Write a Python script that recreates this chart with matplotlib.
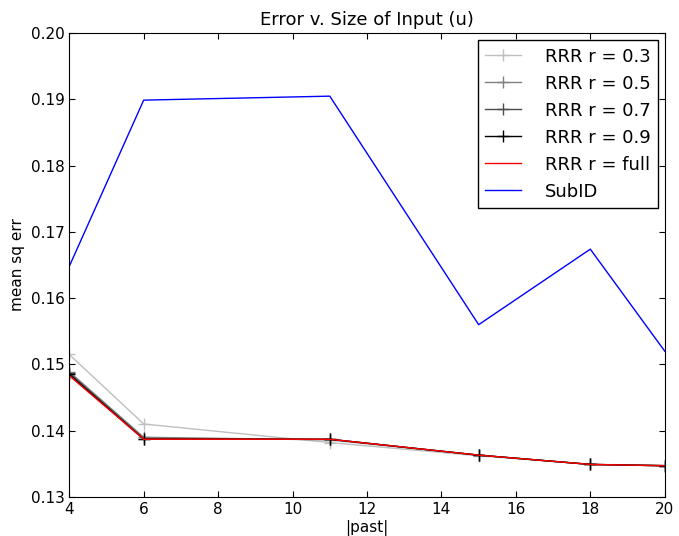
import matplotlib
matplotlib.use('Agg')
import matplotlib.pyplot as plt

# x values (|past|)
past = [4, 6, 11, 15, 18, 20]

# mean squared error per method
rrr_03 = [0.1515, 0.1410, 0.1382, 0.1362, 0.1349, 0.1348]
rrr_05 = [0.1489, 0.1390, 0.1386, 0.1363, 0.1349, 0.1347]
rrr_07 = [0.1487, 0.1388, 0.1387, 0.1363, 0.1349, 0.1347]
rrr_09 = [0.1485, 0.1387, 0.1387, 0.1363, 0.1349, 0.1347]
rrr_full = [0.1483, 0.1387, 0.1387, 0.1363, 0.1349, 0.1347]
subid = [0.1648, 0.1899, 0.1905, 0.1560, 0.1674, 0.1520]

plt.rcParams['xtick.direction'] = 'in'
plt.rcParams['ytick.direction'] = 'in'
plt.rcParams['xtick.top'] = True
plt.rcParams['ytick.right'] = True
plt.rcParams['xtick.major.size'] = 4
plt.rcParams['ytick.major.size'] = 4
plt.rcParams['lines.linewidth'] = 1.0

fig = plt.figure(figsize=(6.79, 5.36), dpi=100)
ax = fig.add_axes([0.102, 0.073, 0.877, 0.865])

ax.plot(past, rrr_03, color='0.75', marker='+', markersize=8, label='RRR r = 0.3')
ax.plot(past, rrr_05, color='0.5', marker='+', markersize=8, label='RRR r = 0.5')
ax.plot(past, rrr_07, color='0.3', marker='+', markersize=8, label='RRR r = 0.7')
ax.plot(past, rrr_09, color='0.0', marker='+', markersize=8, label='RRR r = 0.9')
ax.plot(past, rrr_full, color='r', label='RRR r = full')
ax.plot(past, subid, color='b', label='SubID')

ax.set_xlim(4, 20)
ax.set_ylim(0.13, 0.20)
ax.set_xticks(range(4, 21, 2))
ax.set_yticks([0.13, 0.14, 0.15, 0.16, 0.17, 0.18, 0.19, 0.20])
ax.set_yticklabels([f'{v:.2f}' for v in ax.get_yticks()])
ax.tick_params(labelsize=11)
ax.set_xlabel('|past|', fontsize=11, labelpad=2)
ax.set_ylabel('mean sq err', fontsize=11)
ax.set_title('Error v. Size of Input (u)', fontsize=13)

leg = ax.legend(loc='upper right', fontsize=13, fancybox=False, framealpha=1,
                edgecolor='black', borderaxespad=0.4, handlelength=2.0,
                handletextpad=1.3)
leg.get_frame().set_linewidth(1)

fig.savefig('out.png', dpi=100)
